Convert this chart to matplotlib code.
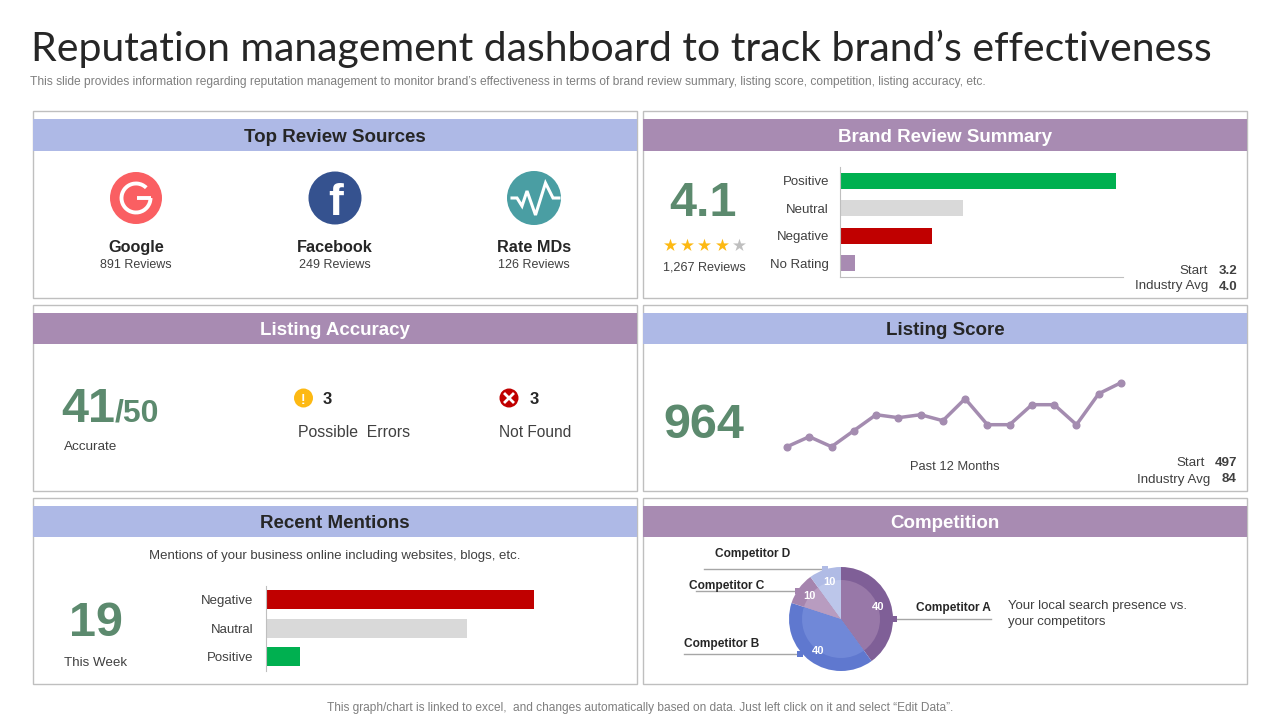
import matplotlib
matplotlib.use('Agg')
import matplotlib.pyplot as plt
from matplotlib.patches import Rectangle, Circle, Arc

plt.rcParams['font.family'] = ['Liberation Sans', 'DejaVu Sans']

W, H = 1280, 720

# datos
title = 'Reputation management dashboard to track brand’s effectiveness'
subtitle = ('This slide provides information regarding reputation management to monitor brand’s '
            'effectiveness in terms of brand review summary, listing score, competition, listing accuracy, etc.')
footer = 'This graph/chart is linked to excel,  and changes automatically based on data. Just left click on it and select “Edit Data”.'

source_names = ['Google', 'Facebook', 'Rate MDs']
source_reviews = ['891 Reviews', '249 Reviews', '126 Reviews']

review_labels = ['Positive', 'Neutral', 'Negative', 'No Rating']
review_values = [900, 400, 300, 50]

mention_labels = ['Negative', 'Nautral', 'Positive']
mention_values = [40, 30, 5]

score_values = [15, 20, 15, 23, 31, 29.5, 31, 28, 39, 26, 26, 36, 36, 26, 41.5, 47]

competitors = ['Competitor A', 'Competitor B', 'Competitor C', 'Competitor D']
competitor_values = [40, 40, 10, 10]

GREEN = '#00b050'
GREY = '#d9d9d9'
RED = '#c00000'
PURPLE = '#a88bb2'
BLUE = '#aeb9e6'
BIG = '#5c8a6e'
DARK = '#262626'
TEXT = '#404040'
EDGE = '#bfbfbf'

fig = plt.figure(figsize=(12.8, 7.2), dpi=100, facecolor='white')

canvas = fig.add_axes([0, 0, 1, 1])
canvas.set_xlim(0, W)
canvas.set_ylim(H, 0)
canvas.axis('off')


def box_axes(x0, y0, x1, y1):
    return fig.add_axes([x0 / W, 1 - y1 / H, (x1 - x0) / W, (y1 - y0) / H])


def label(x, y, s, size=9, color=TEXT, ha='center', weight='normal', **kw):
    canvas.text(x, y, s, fontsize=size, color=color, ha=ha, va='center_baseline', fontweight=weight, **kw)


def panel(x0, y0, x1, y1, head_y0, head_y1, head, fill, head_color):
    canvas.add_patch(Rectangle((x0, y0), x1 - x0, y1 - y0, fc='white', ec=EDGE, lw=1))
    canvas.add_patch(Rectangle((x0, head_y0), x1 - x0, head_y1 - head_y0, fc=fill, ec='none'))
    label((x0 + x1) / 2, (head_y0 + head_y1) / 2, head, size=13.5, color=head_color, weight='bold')


label(31, 45, title, size=29.5, color=DARK, ha='left', family='Lato')
label(30, 81, subtitle, size=8.65, color='#7f7f7f', ha='left')
label(640, 707, footer, size=8.6, color='#7f7f7f')

panel(33, 111, 637, 298, 119, 151, 'Top Review Sources', BLUE, DARK)
panel(643, 111, 1247, 298, 119, 151, 'Brand Review Summary', PURPLE, 'white')
panel(33, 305, 637, 491, 313, 344, 'Listing Accuracy', PURPLE, 'white')
panel(643, 305, 1247, 491, 313, 344, 'Listing Score', BLUE, DARK)
panel(33, 498, 637, 684, 506, 537, 'Recent Mentions', BLUE, DARK)
panel(643, 498, 1247, 684, 506, 537, 'Competition', PURPLE, 'white')

# Top Review Sources
for x, name, rev in zip([136, 335, 534], source_names, source_reviews):
    label(x, 246, name, size=11.7, color=DARK, weight='bold')
    label(x, 263, rev, size=9)

canvas.add_patch(Circle((136, 198), 26, fc='#fa5f62', ec='none'))
canvas.add_patch(Arc((136, 198), 29, 29, theta1=0, theta2=315, ec='white', lw=2.8))
canvas.plot([137, 151], [198, 198], color='white', lw=2.8, solid_capstyle='butt')

canvas.add_patch(Circle((335, 198), 26.5, fc='#35528f', ec='none'))
canvas.text(336, 199, 'f', fontsize=32, color='white', fontweight='bold', ha='center', va='center_baseline')

canvas.add_patch(Circle((534, 198), 27, fc='#4a9ea3', ec='none'))
canvas.plot([512, 517, 522, 527, 535.5, 545.5, 553, 559], [198, 198, 206, 191, 215, 183, 198, 198],
            color='white', lw=2.2, solid_joinstyle='miter')

# Brand Review Summary
label(703, 198, '4.1', size=35, color=BIG, weight='bold')
canvas.scatter([670, 687, 704, 722], [245] * 4, marker='*', s=95, color='#fdb913', linewidths=0, zorder=3)
canvas.scatter([739], [245], marker='*', s=95, color='#bfbfbf', linewidths=0, zorder=3)
label(704, 266, '1,267 Reviews', size=9.1)

ax = box_axes(840, 167, 1123, 277)
ax.barh(review_labels, review_values, height=0.59, color=[GREEN, GREY, RED, PURPLE])
ax.set_xlim(0, 923)
ax.set_ylim(3.5, -0.5)
ax.set_xticks([])
ax.tick_params(axis='y', length=0, pad=8, labelsize=9.5, labelcolor=TEXT)
ax.spines[['top', 'right']].set_visible(False)
ax.spines[['left', 'bottom']].set_color(EDGE)

label(1208, 269, 'Start', size=9.6, ha='right')
label(1237, 269, '3.2', size=9.6, ha='right', weight='bold')
label(1208, 285, 'Industry Avg', size=9.6, ha='right')
label(1237, 285, '4.0', size=9.6, ha='right', weight='bold')

# Listing Accuracy
label(61, 404, '41', size=35, color=BIG, ha='left', weight='bold')
label(115, 410, '/50', size=23, color=BIG, ha='left', weight='bold')
label(91, 446, 'Accurate', size=9.7)

canvas.add_patch(Circle((303.5, 398), 9.5, fc='#fdb913', ec='none'))
label(303.5, 398, '!', size=10, color='white', weight='bold')
label(327, 398, '3', size=12, color=DARK, weight='bold')
label(354, 431, 'Possible  Errors', size=11.4)

canvas.add_patch(Circle((509, 398), 9.5, fc=RED, ec='none'))
canvas.plot([505, 513], [394, 402], color='white', lw=2)
canvas.plot([505, 513], [402, 394], color='white', lw=2)
label(534, 398, '3', size=12, color=DARK, weight='bold')
label(535, 431, 'Not Found', size=11.2)

# Listing Score
label(704, 420, '964', size=35, color=BIG, weight='bold')
ax = box_axes(787, 370, 1121, 460)
ax.plot(score_values, color='#a48cb0', lw=2.5, marker='o', ms=4.8, clip_on=False)
ax.set_xlim(0, len(score_values) - 1)
ax.set_ylim(8.35, 53.35)
ax.axis('off')
label(955, 466, 'Past 12 Months', size=9.3)

label(1205, 462, 'Start', size=9.6, ha='right')
label(1237, 462, '497', size=9.6, ha='right', weight='bold')
label(1210, 478, 'Industry Avg', size=9.6, ha='right')
label(1237, 478, '84', size=9.6, ha='right', weight='bold')

# Recent Mentions
label(335, 555, 'Mentions of your business online including websites, blogs, etc.', size=9.5)
label(96, 619, '19', size=35, color=BIG, weight='bold')
label(96, 661, 'This Week', size=9.6)

ax = box_axes(266, 585.5, 600, 671)
ax.barh(mention_labels, mention_values, height=0.65, color=[RED, GREY, GREEN])
ax.set_xlim(0, 334 / 6.7)
ax.set_ylim(2.5, -0.5)
ax.set_xticks([])
ax.tick_params(axis='y', length=0, pad=9, labelsize=9.5, labelcolor=TEXT)
ax.spines[['top', 'right', 'bottom']].set_visible(False)
ax.spines['left'].set_color(EDGE)

# Competition
ax = box_axes(786.4, 564.4, 895.6, 673.6)
ax.pie(competitor_values, radius=1, startangle=90, counterclock=False,
       colors=['#7f5f97', '#5f78cf', '#a584ae', '#b0bbe5'],
       wedgeprops={'linewidth': 0})
ax.pie(competitor_values, radius=0.75, startangle=90, counterclock=False,
       colors=['#9878a8', '#7088d8', '#b89cc0', '#bcc6ea'],
       autopct=lambda p: f'{p:.0f}', pctdistance=1.0,
       textprops={'color': 'white', 'fontsize': 8, 'fontweight': 'bold'},
       wedgeprops={'linewidth': 0})
ax.set_xlim(-1.05, 1.05)
ax.set_ylim(-1.05, 1.05)

leader_lines = [(894, 991, 619), (684, 800, 654), (696, 798, 591), (704, 825, 569)]
leader_colors = ['#7f5f97', '#5f78cf', '#a584ae', '#b0bbe5']
for (x0, x1, y), c in zip(leader_lines, leader_colors):
    canvas.plot([x0, x1], [y, y], color='#a6a6a6', lw=1)
    end = x0 if x0 == 894 else x1
    canvas.scatter([end], [y], marker='s', s=18, color=c, linewidths=0, zorder=3)

label(916, 607, competitors[0], size=8.6, color=DARK, ha='left', weight='bold')
label(684, 642, competitors[1], size=8.6, color=DARK, ha='left', weight='bold')
label(689, 584, competitors[2], size=8.6, color=DARK, ha='left', weight='bold')
label(715, 553, competitors[3], size=8.6, color=DARK, ha='left', weight='bold')

label(1008, 605, 'Your local search presence vs.', size=9.5, ha='left')
label(1008, 621, 'your competitors', size=9.5, ha='left')

fig.savefig('out.png', dpi=100)
